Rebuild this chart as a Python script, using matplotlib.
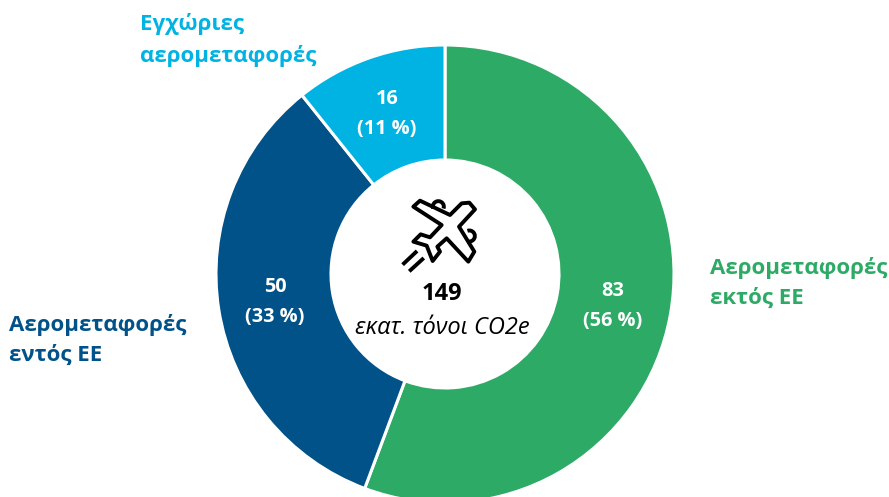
"""
Aviation emissions donut, with plane icon in the hole
"""
import matplotlib
matplotlib.use('Agg')
import matplotlib.pyplot as plt
from matplotlib.path import Path
from matplotlib.patches import PathPatch, Arc

plt.rcParams['font.family'] = ['Open Sans', 'Noto Sans', 'DejaVu Sans']

values = [83, 50, 16]
shares = ['56 %', '33 %', '11 %']
colors = ['#2DAB66', '#005288', '#00B3E3']
names = ['Αερομεταφορές\nεκτός ΕΕ', 'Αερομεταφορές\nεντός ΕΕ', 'Εγχώριες\nαερομεταφορές']
total = '149'
unit = 'εκατ. τόνοι CO2e'

H = 497
fig = plt.figure(figsize=(8.89, 4.97), dpi=100)
ax = fig.add_axes([0, 0, 1, 1])

ax.pie(values, colors=colors, startangle=90, counterclock=False,
       center=(445, H - 274), radius=229, frame=True,
       wedgeprops=dict(width=115, edgecolor='white', linewidth=2.2))
ax.set_xlim(0, 889)
ax.set_ylim(0, H)
ax.axis('off')

# labels inside the ring
val_pos = [(613, 306), (275, 302), (387, 114)]
for v, s, (x, y) in zip(values, shares, val_pos):
    ax.text(x, H - y, "%d\n(%s)" % (v, s), color='white', fontsize=14.3, fontweight='bold',
            ha='center', va='center', linespacing=1.65)

# outer labels
name_pos = [(710, 283), (9, 340), (140, 40)]
for n, c, (x, y) in zip(names, colors, name_pos):
    ax.text(x, H - y, n, color=c, fontsize=16, fontweight='bold',
            ha='left', va='center', linespacing=1.55)

# centre text
ax.text(442, H - 294, total, color='black', fontsize=17, fontweight='bold', ha='center', va='center')
ax.text(442, H - 328, unit, color='black', fontsize=17, style='italic', ha='center', va='center')

def ic(px, py):
    return (380 + px / 3, H - (180 + py / 3))

outline = [(268, 68), (285, 88), (237, 140), (283, 215), (265, 245), (200, 175),
           (172, 200), (180, 215), (158, 243), (140, 197), (100, 185), (122, 163),
           (150, 172), (185, 135), (100, 80), (120, 62), (210, 105), (245, 70), (268, 68)]
verts = [ic(*p) for p in outline]
codes = [Path.MOVETO] + [Path.LINETO] * (len(verts) - 2) + [Path.CLOSEPOLY]
ax.add_patch(PathPatch(Path(verts, codes), facecolor='none', edgecolor='black', linewidth=2.8, joinstyle='round'))
for a, b in [((72, 250), (107, 217)), ((92, 270), (127, 238))]:
    p, q = ic(*a), ic(*b)
    ax.plot([p[0], q[0]], [p[1], q[1]], color='black', linewidth=2.8)
for (cx, cy), t1, t2 in [((175, 80), 0, 180), ((268, 168), -90, 90)]:
    ax.add_patch(Arc(ic(cx, cy), 11, 11, theta1=t1 - 20, theta2=t2 + 20, color='black', linewidth=2.8))

fig.savefig('out.png', dpi=100)
